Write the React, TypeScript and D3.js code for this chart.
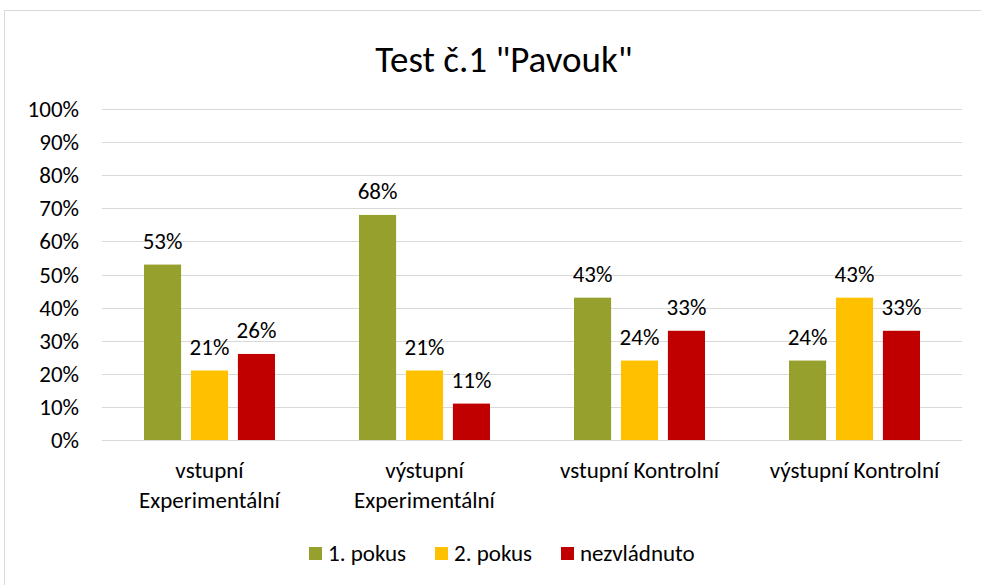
import React, { useEffect, useRef } from "react";
import * as d3 from "d3";

const categories = [
  ["vstupní", "Experimentální"],
  ["výstupní", "Experimentální"],
  ["vstupní Kontrolní"],
  ["výstupní Kontrolní"],
];
const seriesNames = ["1. pokus", "2. pokus", "nezvládnuto"];
const seriesColors = ["#95A12C", "#FFC000", "#C00000"];
const pokus1 = [53, 68, 43, 24];
const pokus2 = [21, 21, 24, 43];
const nezvladnuto = [26, 11, 33, 33];
const yTicks = [0, 10, 20, 30, 40, 50, 60, 70, 80, 90, 100];

const FONT = "Carlito, Lato, 'Open Sans', sans-serif";
const FS = 23;

export default function App() {
  const svgRef = useRef<SVGSVGElement>(null);
  const width = 981;
  const height = 585;

  useEffect(() => {
    if (!svgRef.current) return;
    const svg = d3.select(svgRef.current);
    svg.selectAll("*").remove();

    const margin = { top: 109, right: 19, bottom: 145, left: 102 };
    const innerWidth = width - margin.left - margin.right;
    const innerHeight = height - margin.top - margin.bottom;

    // chart frame
    svg.append("rect")
      .attr("x", 4.5).attr("y", 10.5)
      .attr("width", width + 10).attr("height", height + 10)
      .attr("fill", "#fff").attr("stroke", "#d9d9d9");

    svg.append("text")
      .attr("x", 504).attr("y", 59)
      .attr("dy", "0.35em")
      .attr("text-anchor", "middle")
      .attr("font-family", FONT).attr("font-size", 37)
      .attr("fill", "#000")
      .text('Test č.1 "Pavouk"');

    const g = svg.append("g").attr("transform", `translate(${margin.left},${margin.top})`);

    const x0 = d3.scaleBand<number>()
      .domain(d3.range(categories.length))
      .range([0, innerWidth]);
    const x1 = d3.scaleBand<number>()
      .domain(d3.range(seriesNames.length))
      .range([42, x0.bandwidth() - 42])
      .paddingInner(0.21);
    const y = d3.scaleLinear().domain([0, 100]).range([innerHeight, 0]);

    // gridlines
    g.selectAll(".grid").data(yTicks).enter().append("line")
      .attr("x1", 0).attr("x2", innerWidth)
      .attr("y1", (d) => Math.round(y(d)) + 0.5).attr("y2", (d) => Math.round(y(d)) + 0.5)
      .attr("stroke", "#d9d9d9").attr("stroke-width", 1);

    g.selectAll(".ytick").data(yTicks).enter().append("text")
      .attr("x", -23).attr("y", (d) => y(d))
      .attr("dy", "0.35em")
      .attr("text-anchor", "end")
      .attr("font-family", FONT).attr("font-size", FS)
      .attr("fill", "#000")
      .text((d) => `${d}%`);

    const series = [pokus1, pokus2, nezvladnuto];
    series.forEach((vals, si) => {
      const sg = g.append("g");
      sg.selectAll("rect").data(vals).enter().append("rect")
        .attr("x", (_, i) => x0(i)! + x1(si)!)
        .attr("y", (d) => y(d))
        .attr("width", x1.bandwidth())
        .attr("height", (d) => innerHeight - y(d))
        .attr("fill", seriesColors[si]);
      sg.selectAll("text").data(vals).enter().append("text")
        .attr("x", (_, i) => x0(i)! + x1(si)! + x1.bandwidth() / 2)
        .attr("y", (d) => y(d) - 24)
        .attr("dy", "0.35em")
        .attr("text-anchor", "middle")
        .attr("font-family", FONT).attr("font-size", FS)
        .attr("fill", "#000")
        .text((d) => `${d}%`);
    });

    // category labels
    categories.forEach((lines, i) => {
      const t = g.append("text")
        .attr("x", x0(i)! + x0.bandwidth() / 2)
        .attr("y", innerHeight + 30)
        .attr("text-anchor", "middle")
        .attr("font-family", FONT).attr("font-size", FS)
        .attr("fill", "#000");
      lines.forEach((l, li) => {
        t.append("tspan")
          .attr("x", x0(i)! + x0.bandwidth() / 2)
          .attr("y", innerHeight + 30 + li * 30)
          .attr("dy", "0.35em")
          .text(l);
      });
    });

    // legend
    const legendX = [309, 435, 561];
    seriesNames.forEach((name, i) => {
      svg.append("rect")
        .attr("x", legendX[i]).attr("y", 547)
        .attr("width", 13).attr("height", 13)
        .attr("fill", seriesColors[i]);
      svg.append("text")
        .attr("x", legendX[i] + 19).attr("y", 553)
        .attr("dy", "0.35em")
        .attr("font-family", FONT).attr("font-size", FS)
        .attr("fill", "#000")
        .text(name);
    });
  }, []);

  return (
    <svg
      ref={svgRef}
      width={width}
      height={height}
      style={{ position: "absolute", left: 0, top: 0, display: "block" }}
    />
  );
}
